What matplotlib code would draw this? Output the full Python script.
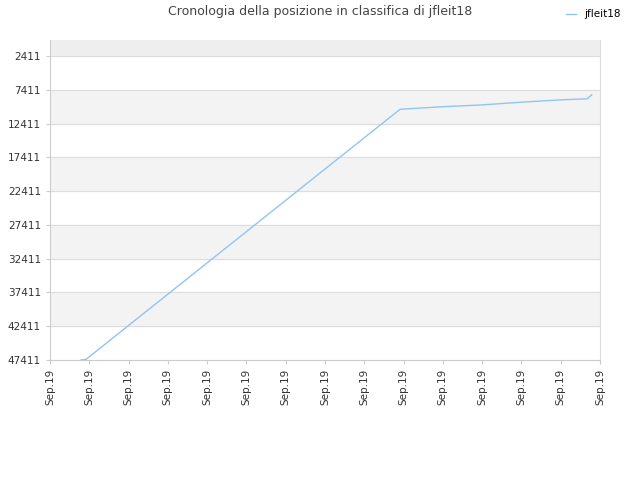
import matplotlib
matplotlib.use("Agg")
import matplotlib.pyplot as plt

x_pos = [0.79, 0.92, 8.91, 9.9, 11.0, 12.0, 13.0, 13.67, 13.79]
ranks = [47411, 47300, 10300, 9950, 9650, 9250, 8900, 8750, 8150]
tick_labels = ["Sep.19"] * 15
y_ticks = [2411, 7411, 12411, 17411, 22411, 27411, 32411, 37411, 42411, 47411]

fig = plt.figure(figsize=(6.4, 4.8), dpi=100)
ax = fig.add_axes([50/640, 1-360/480, 550/640, 320/480])
ymin = 47411; ymax = 2411 - 16*148
ax.set_ylim(ymin, ymax)
ax.set_xlim(0, 14)
for i in range(len(y_ticks)-1):
    if i % 2 == 1:
        ax.axhspan(y_ticks[i], y_ticks[i+1], color="#f3f3f3", zorder=0)
ax.axhspan(ymax, 2411, color="#eeeeee", zorder=0)
for t in y_ticks:
    ax.axhline(t, color="#dddddd", lw=0.8, zorder=1)
ax.plot(x_pos, ranks, color="#90c4f5", lw=1, label="jfleit18", zorder=3)
ax.set_yticks(y_ticks)
ax.set_yticklabels([str(t) for t in y_ticks], fontsize=7.5, color="#333333")
ax.set_xticks(range(15))
ax.set_xticklabels(tick_labels, rotation=90, fontsize=7.5, color="#333333")
ax.tick_params(length=3, color="#cccccc")
for s in ["top"]:
    ax.spines[s].set_visible(False)
for s in ["left", "bottom"]:
    ax.spines[s].set_color("#cccccc")
ax.spines["right"].set_color("#dddddd")
fig.text(0.5, 1-12/480, "Cronologia della posizione in classifica di jfleit18", ha="center", va="center", fontsize=9, color="#444444")
fig.legend(loc="upper right", bbox_to_anchor=(0.985, 1.0), frameon=False, fontsize=7.5, handlelength=1.0)
fig.savefig("out.png")
